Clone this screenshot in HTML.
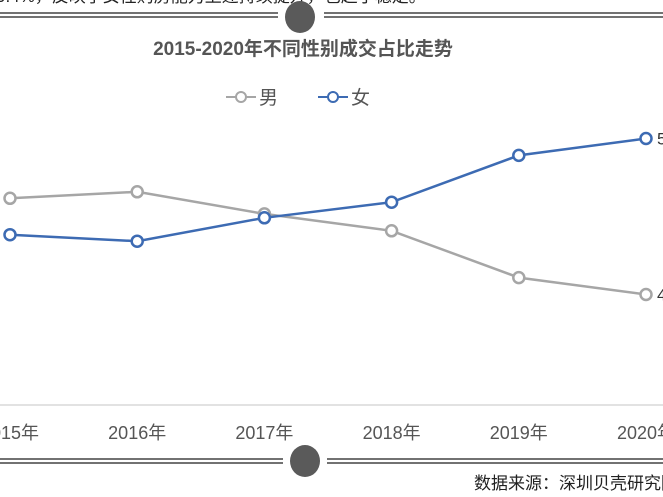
<!DOCTYPE html>
<html><head><meta charset="utf-8"><style>
body{margin:0;background:#fff;width:663px;height:497px;overflow:hidden;font-family:"Liberation Sans","Noto Sans CJK SC",sans-serif}
svg{display:block}
</style></head><body>
<svg width="663" height="497">
<g>
<text x="-4" y="2" font-size="17" fill="#222">0.4%，反映了女性购房能力上述持续提升，也趋于稳定。</text>
<line x1="0" y1="13" x2="278" y2="13" stroke="#444" stroke-width="1.5"/>
<line x1="0" y1="17" x2="278" y2="17" stroke="#444" stroke-width="1.5"/>
<line x1="324" y1="13" x2="663" y2="13" stroke="#444" stroke-width="1.5"/>
<line x1="324" y1="17" x2="663" y2="17" stroke="#444" stroke-width="1.5"/>
<ellipse cx="300" cy="17" rx="15" ry="16" fill="#5a5a5a"/>
</g>
<text x="303" y="55" text-anchor="middle" font-size="19" font-weight="bold" fill="#555">2015-2020年不同性别成交占比走势</text>
<g>
<g>
<line x1="226" y1="97" x2="256" y2="97" stroke="#a6a6a6" stroke-width="2"/>
<circle cx="241" cy="97" r="5" fill="#fff" stroke="#a6a6a6" stroke-width="2"/>
<text x="259" y="104" font-size="19" fill="#555">男</text></g>
<g>
<line x1="318" y1="97" x2="348" y2="97" stroke="#3d6bb3" stroke-width="2"/>
<circle cx="333" cy="97" r="5" fill="#fff" stroke="#3d6bb3" stroke-width="2"/>
<text x="351" y="104" font-size="19" fill="#555">女</text></g>
</g>
<line x1="0" y1="405" x2="663" y2="405" stroke="#d9d9d9" stroke-width="1.5"/>
<g id="plot"></g>
<g>
<line x1="0" y1="459" x2="283" y2="459" stroke="#444" stroke-width="1.5"/>
<line x1="0" y1="463" x2="283" y2="463" stroke="#444" stroke-width="1.5"/>
<line x1="327" y1="459" x2="663" y2="459" stroke="#444" stroke-width="1.5"/>
<line x1="327" y1="463" x2="663" y2="463" stroke="#444" stroke-width="1.5"/>
<ellipse cx="305" cy="461" rx="15" ry="16" fill="#5a5a5a"/>
</g>
<text x="474" y="489" font-size="17" fill="#222">数据来源：深圳贝壳研究院</text>
</svg>
<script>
const categories=["2015年","2016年","2017年","2018年","2019年","2020年"];
const maleValues=[51.4,51.9,50.2,48.9,45.3,44.0];
const femaleValues=[48.6,48.1,49.9,51.1,54.7,56.0];
const NS="http://www.w3.org/2000/svg";
const g=document.getElementById('plot');
const xPos=i=>10+i*127.2;
const yPos=v=>216.5-(v-50)*13;
function mk(t,a){const e=document.createElementNS(NS,t);for(const k in a)e.setAttribute(k,a[k]);g.appendChild(e);return e;}
categories.forEach((c,i)=>{
 const t=mk('text',{x:xPos(i),y:439,'text-anchor':'middle','font-size':18,fill:'#555'});
 
 
 t.textContent=c;
});
function series(vals,color,name){
 const pl=mk('polyline',{points:vals.map((v,i)=>xPos(i)+','+yPos(v)).join(' '),fill:'none',stroke:color,'stroke-width':2.5});
 
 
 vals.forEach((v,i)=>{
  const c=mk('circle',{cx:xPos(i),cy:yPos(v),r:5.5,fill:'#fff',stroke:color,'stroke-width':2.5});
  
  
 });
 const last=vals.length-1;
 const l=mk('text',{x:xPos(last)+11,y:yPos(vals[last])+6,'font-size':17,fill:'#333'});
 
 
 l.textContent=vals[last].toFixed(1)+'%';
}
series(maleValues,'#a6a6a6','male');
series(femaleValues,'#3d6bb3','female');
</script>
</body></html>
